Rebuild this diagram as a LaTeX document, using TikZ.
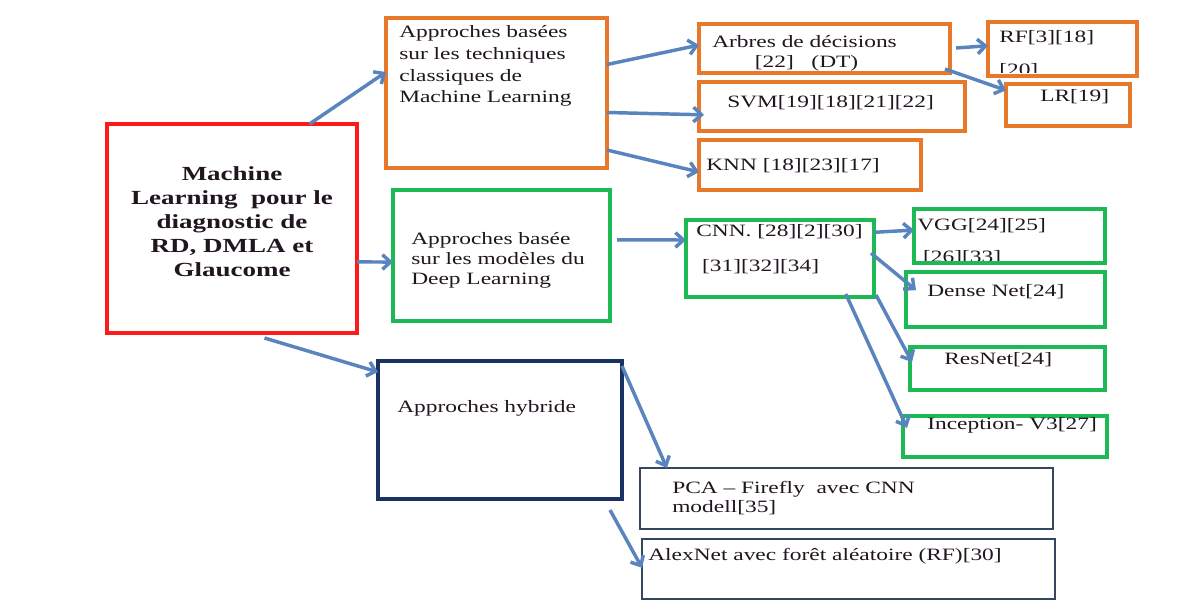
\documentclass[tikz,border=0pt]{standalone}
\usepackage{fontspec}
\setmainfont{Liberation Serif}[FakeStretch=1.35]
\usetikzlibrary{arrows.meta,calc,fit}
\definecolor{cOrange}{HTML}{E8782A}
\definecolor{cGreen}{HTML}{1DB954}
\definecolor{cRed}{HTML}{FF1A1A}
\definecolor{cNavy}{HTML}{1A3262}
\definecolor{cSlate}{HTML}{34475F}
\definecolor{cArrow}{HTML}{5A84BE}
\definecolor{cText}{HTML}{201620}
\begin{document}
\begin{tikzpicture}[x=0.75pt,y=-0.75pt,
  box/.style={draw, line width=2.3pt, inner sep=0pt, outer sep=0pt},
  obox/.style={box, draw=cOrange},
  gbox/.style={box, draw=cGreen},
  nbox/.style={box, draw=cNavy},
  sbox/.style={box, draw=cSlate, line width=2pt},
  txt/.style={inner sep=0pt, anchor=west, align=left, text=cText,
    font=\fontsize{13pt}{16.3pt}\selectfont},
  arr/.style={draw=cArrow, line width=2.6pt, -{Straight Barb[length=6pt,width=11pt]}}]
\useasboundingbox (0,0) rectangle (1194,605);
\fill[white] (0,0) rectangle (1194,605);

% boxes
\node[box, draw=cRed, fit={(107,124) (357,333)}] (main) {};
\node[obox, fit={(386,18) (607,168)}] (ml) {};
\node[gbox, fit={(393,190) (610,321)}] (dl) {};
\node[nbox, fit={(378,361) (622,499)}] (hyb) {};
\node[obox, fit={(699,24) (950,73)}] (arb) {};
\node[obox, fit={(988,22) (1137,76)}] (rf) {};
\node[obox, fit={(699,82) (965,131)}] (svm) {};
\node[obox, fit={(1006,84) (1130,126)}] (lr) {};
\node[obox, fit={(699,140) (921,190)}] (knn) {};
\node[gbox, fit={(686,220) (874,297)}] (cnn) {};
\node[gbox, fit={(914,209) (1105,263)}] (vgg) {};
\node[gbox, fit={(906,272) (1105,327)}] (dense) {};
\node[gbox, fit={(910,347) (1105,390)}] (res) {};
\node[gbox, fit={(903,416) (1107,457)}] (inc) {};
\node[sbox, fit={(640,468) (1053,529)}] (pca) {};
\node[sbox, fit={(642,539) (1055,599)}] (alex) {};

% texts
\node[txt, anchor=center, align=center, font=\bfseries\fontsize{15pt}{18pt}\selectfont] (tmain) at (232,222)
  {Machine\\Learning\ \ pour le\\diagnostic de\\RD, DMLA et\\Glaucome};
\node[txt] (tml) at (399,66) {Approches basées\\sur les techniques\\classiques de\\Machine Learning};
\node[txt, font=\fontsize{13pt}{15pt}\selectfont] (tdl) at (411,260) {Approches basée\\sur les modèles du\\Deep Learning};
\node[txt] (thyb) at (397,408) {Approches hybride};
\node[txt, font=\fontsize{13pt}{15pt}\selectfont] (tarb) at (712,53) {Arbres de décisions\\\hspace*{32pt}[22]\ \ \ (DT)};
\begin{scope}
  \clip (990,24) rectangle (1135,73);
  \node[txt, anchor=north west, font=\fontsize{13pt}{25pt}\selectfont] (trf) at (999,30) {RF[3][18]\\{}[20]};
\end{scope}
\node[txt] (tsvm) at (727,103) {SVM[19][18][21][22]};
\node[txt] (tlr) at (1040,97) {LR[19]};
\node[txt] (tknn) at (706,166) {KNN [18][23][17]};
\node[txt, font=\fontsize{13pt}{26pt}\selectfont] (tcnn) at (696,249) {CNN. [28][2][30]\\\ [31][32][34]};
\begin{scope}
  \clip (916,211) rectangle (1103,261);
  \node[txt, anchor=north west, font=\fontsize{13pt}{24pt}\selectfont] (tvgg) at (917,218) {VGG[24][25]\\\ [26][33]};
\end{scope}
\node[txt] (tdense) at (927,292) {Dense Net[24]};
\node[txt] (tres) at (944,360) {ResNet[24]};
\node[txt] (tinc) at (927,425) {Inception- V3[27]};
\node[txt, font=\fontsize{13pt}{14pt}\selectfont] (tpca) at (672,498) {PCA -- Firefly\ \ avec CNN\\modell[35]};
\node[txt] (talex) at (648,556) {AlexNet avec forêt aléatoire (RF)[30]};

% connectors
\draw[arr] ($(main.north west)!0.81!(main.north east)$) -- ($(ml.north west)!0.36!(ml.south west)$);
\draw[arr] ($(main.north east)!0.66!(main.south east)$) -- ($(dl.north west)!0.55!(dl.south west)$);
\draw[arr] ([shift={(0,5)}]$(main.south west)!0.63!(main.south east)$) -- ($(hyb.north west)!0.08!(hyb.south west)$);
\draw[arr] ($(ml.north east)!0.31!(ml.south east)$) -- ($(arb.north west)!0.43!(arb.south west)$);
\draw[arr] ($(ml.north east)!0.63!(ml.south east)$) -- ([shift={(5,0)}]$(svm.north west)!0.67!(svm.south west)$);
\draw[arr] ($(ml.north east)!0.88!(ml.south east)$) -- ($(knn.north west)!0.64!(knn.south west)$);
\draw[arr] ([shift={(6,0)}]$(arb.north east)!0.49!(arb.south east)$) -- ($(rf.north west)!0.44!(rf.south west)$);
\draw[arr] ([shift={(-5,-4)}]arb.south east) -- ($(lr.north west)!0.15!(lr.south west)$);
\draw[arr] ([shift={(7,0)}]$(dl.north east)!0.38!(dl.south east)$) -- ($(cnn.north west)!0.26!(cnn.south west)$);
\draw[arr] ($(cnn.north east)!0.16!(cnn.south east)$) -- ($(vgg.north west)!0.39!(vgg.south west)$);
\draw[arr] ([shift={(-3,0)}]$(cnn.north east)!0.43!(cnn.south east)$) -- ([shift={(10,0)}]$(dense.north west)!0.33!(dense.south west)$);
\draw[arr] ([shift={(2,-2)}]cnn.south east) -- ([shift={(2,0)}]$(res.north west)!0.35!(res.south west)$);
\draw[arr] ([shift={(0,-3)}]$(cnn.south west)!0.85!(cnn.south east)$) -- ([shift={(4,0)}]$(inc.north west)!0.29!(inc.south west)$);
\draw[arr] ([shift={(0,5)}]hyb.north east) -- ($(pca.north west)!0.065!(pca.north east)$);
\draw[arr] ([shift={(-12,11)}]hyb.south east) -- ($(alex.north west)!0.48!(alex.south west)$);
\end{tikzpicture}
\end{document}
